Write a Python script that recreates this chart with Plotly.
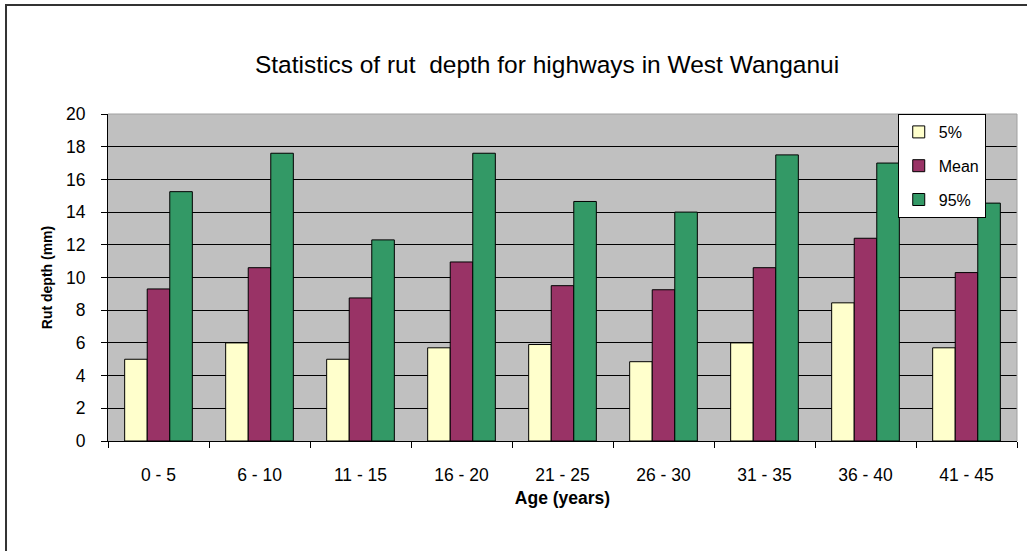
import plotly.graph_objects as go

categories = ["0 - 5", "6 - 10", "11 - 15", "16 - 20", "21 - 25", "26 - 30", "31 - 35", "36 - 40", "41 - 45"]
p5 = [5.0, 6.0, 5.0, 5.7, 5.9, 4.85, 6.0, 8.45, 5.7]
mean = [9.3, 10.6, 8.75, 10.95, 9.5, 9.25, 10.6, 12.4, 10.3]
p95 = [15.25, 17.6, 12.3, 17.6, 14.65, 14.0, 17.5, 17.0, 14.55]
y_ticks = [0, 2, 4, 6, 8, 10, 12, 14, 16, 18, 20]

FONT = "Arial, Liberation Sans, sans-serif"

fig = go.Figure()
series = [("5%", p5, "#FFFFCC"), ("Mean", mean, "#993366"), ("95%", p95, "#339966")]
for name, vals, col in series:
    fig.add_trace(go.Bar(
        x=categories, y=vals, name=name, legendgroup=name,
        marker=dict(color=col, line=dict(color="black", width=1)),
    ))

fig.update_layout(
    width=1027, height=551,
    margin=dict(l=108, r=10, t=114, b=110),
    paper_bgcolor="white", plot_bgcolor="#C0C0C0",
    barmode="group", bargap=0.33, bargroupgap=0,
    font=dict(family=FONT, color="black", size=17),
    title=dict(text="Statistics of rut&nbsp; depth for highways in West Wanganui",
               x=547 / 1027, xref="container", xanchor="center",
               y=1 - 64 / 551, yref="container", yanchor="middle",
               font=dict(family=FONT, size=24.5, color="black")),
    legend=dict(x=0.8688, y=1, xanchor="left", yanchor="top",
                bgcolor="white", bordercolor="black", borderwidth=1,
                font=dict(family=FONT, size=16, color="black"),
                traceorder="grouped", tracegroupgap=10),
    xaxis=dict(showline=True, linecolor="black", linewidth=1,
               ticks="outside", tickson="boundaries", ticklen=6, tickcolor="black",
               ticklabelstandoff=18,
               tickfont=dict(family=FONT, size=17.5),
               title=dict(text="<b>Age (years)</b>", standoff=7,
                          font=dict(family=FONT, size=17.5))),
    yaxis=dict(range=[0, 20], tickvals=y_ticks, showline=True, linecolor="black", linewidth=1,
               ticks="outside", ticklen=6, tickcolor="black",
               showgrid=True, gridcolor="black", gridwidth=1, zeroline=False,
               ticklabelstandoff=12,
               tickfont=dict(family=FONT, size=17.5),
               title=dict(text="<b>Rut depth (mm)</b>", standoff=10,
                          font=dict(family=FONT, size=14))),
)

# plot-area border (gray top/right) and outer chart frame
fig.add_shape(type="path", xref="paper", yref="paper",
              path="M 0,1 L 1,1 L 1,0", line=dict(color="#A0A0A0", width=1), layer="above")
fig.add_shape(type="rect", xref="paper", yref="paper",
              x0=-0.1122, y0=-0.36, x1=1.02, y1=1.3333,
              line=dict(color="#333333", width=2), fillcolor="rgba(0,0,0,0)", layer="below")

fig.write_html("out.html", config={"displayModeBar": False},
               post_script="document.body.style.margin='0';document.body.style.overflow='hidden';")
